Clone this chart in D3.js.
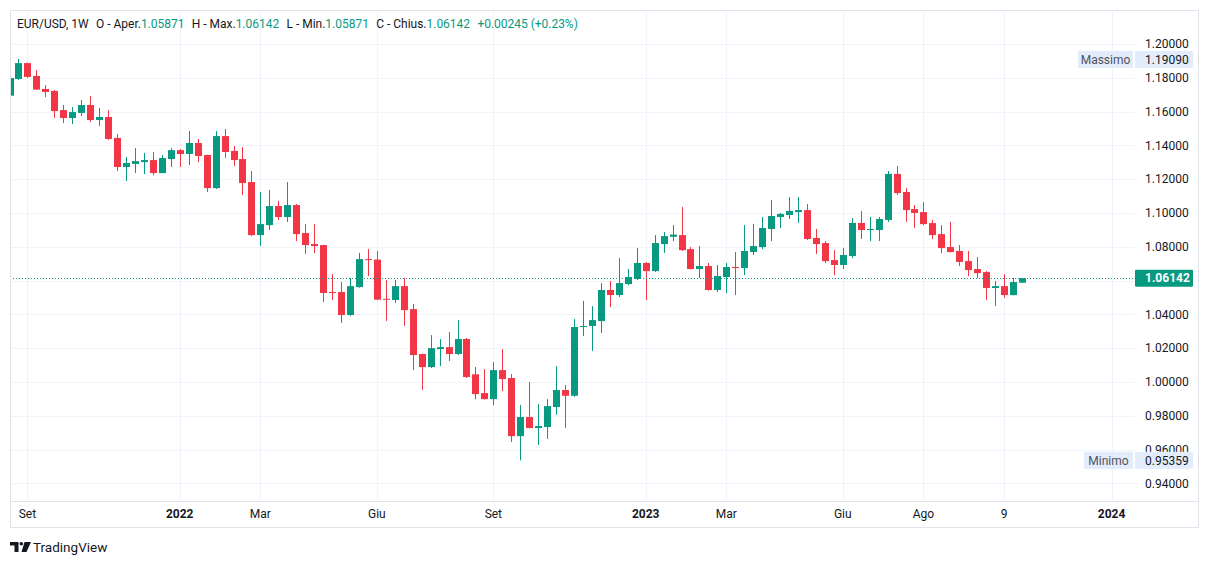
<!DOCTYPE html>
<html><head><meta charset="utf-8">
<script src="https://cdn.jsdelivr.net/npm/d3@7"></script>
<style>
body{margin:0;background:#fff}
svg{display:block}
text{font-family:Roboto,"Noto Sans",sans-serif}
</style>
</head><body>
<svg id="c" width="1209" height="564"></svg>
<script>
// ---- data (weekly EUR/USD, Aug 2021 - Oct 2023) ----
const opens=[1.1694,1.1793,1.1887,1.1811,1.1734,1.1722,1.1609,1.1562,1.1592,1.1639,
1.1550,1.1568,1.1444,1.1272,1.1290,1.1301,1.1313,1.1236,1.1319,1.1372,
1.1349,1.1414,1.1343,1.1147,1.1455,1.1367,1.1319,1.1183,1.0869,1.0928,
1.1041,1.0976,1.1047,1.0881,1.0816,1.0810,1.0532,1.0532,1.0396,1.0561,
1.0727,1.0724,1.0492,1.0485,1.0567,1.0431,1.0165,1.0088,1.0194,1.0206,
1.0165,1.0254,1.0045,0.9934,0.9898,1.0070,1.0023,0.9679,0.9792,0.9727,
0.9733,0.9851,0.9952,0.9918,1.0325,1.0331,1.0360,1.0544,1.0514,1.0579,
1.0609,1.0704,1.0656,1.0816,1.0859,1.0869,1.0786,1.0668,1.0686,1.0544,
1.0621,1.0680,1.0674,1.0769,1.0798,1.0905,1.0976,1.0988,1.1005,1.1017,
1.0852,1.0822,1.0721,1.0692,1.0745,1.0941,1.0899,1.0899,1.0959,1.1231,
1.1124,1.1023,1.1005,1.0940,1.0875,1.0798,1.0775,1.0715,1.0668,1.0650,
1.0556,1.0567,1.0514,1.05871];
const highs=[1.1802,1.1911,1.1890,1.1846,1.1757,1.1728,1.1639,1.1627,1.1668,1.1692,
1.1621,1.1609,1.1467,1.1331,1.1384,1.1355,1.1361,1.1343,1.1384,1.1378,
1.1485,1.1438,1.1345,1.1485,1.1497,1.1396,1.1390,1.1248,1.1124,1.1136,
1.1071,1.1183,1.1053,1.0934,1.0934,1.0812,1.0638,1.0591,1.0615,1.0763,
1.0786,1.0775,1.0603,1.0603,1.0615,1.0461,1.0167,1.0277,1.0254,1.0295,
1.0366,1.0260,1.0088,1.0076,1.0118,1.0194,1.0046,0.9863,0.9999,0.9869,
0.9898,1.0094,0.9981,1.0372,1.0479,1.0449,1.0585,1.0597,1.0734,1.0668,
1.0792,1.0710,1.0869,1.0887,1.0928,1.1035,1.0798,1.0804,1.0704,1.0692,
1.0704,1.0769,1.0928,1.0934,1.0976,1.1077,1.1000,1.1094,1.1094,1.1053,
1.0905,1.0834,1.0780,1.0792,1.0970,1.1011,1.0976,1.0976,1.1248,1.1278,
1.1147,1.1047,1.1065,1.0959,1.0928,1.0947,1.0810,1.0775,1.0739,1.0656,
1.0597,1.0638,1.0615,1.06142];
const lows=[1.1665,1.1787,1.1800,1.1728,1.1686,1.1562,1.1532,1.1526,1.1574,1.1538,
1.1515,1.1432,1.1248,1.1189,1.1236,1.1230,1.1224,1.1236,1.1272,1.1272,
1.1284,1.1301,1.1124,1.1142,1.1325,1.1278,1.1106,1.0863,1.0804,1.0899,
1.0958,1.0947,1.0834,1.0757,1.0763,1.0473,1.0485,1.0349,1.0390,1.0558,
1.0627,1.0485,1.0361,1.0467,1.0331,1.0070,0.9952,1.0082,1.0094,1.0124,
1.0159,1.0023,0.9898,0.9896,0.9863,0.9946,0.9644,0.9536,0.9725,0.9627,
0.9663,0.9806,0.9727,0.9912,1.0272,1.0184,1.0289,1.0443,1.0503,1.0573,
1.0603,1.0485,1.0650,1.0763,1.0834,1.0775,1.0665,1.0615,1.0540,1.0532,
1.0526,1.0514,1.0632,1.0751,1.0786,1.0834,1.0911,1.0964,1.0941,1.0840,
1.0757,1.0704,1.0632,1.0668,1.0733,1.0846,1.0834,1.0834,1.0947,1.1106,
1.0947,1.0911,1.0928,1.0846,1.0763,1.0766,1.0686,1.0627,1.0615,1.0485,
1.0449,1.0497,1.0512,1.05871];
const closes=[1.1799,1.1887,1.1805,1.1730,1.1716,1.1603,1.1562,1.1597,1.1639,1.1550,
1.1568,1.1438,1.1272,1.1296,1.1307,1.1313,1.1236,1.1325,1.1372,1.1349,
1.1414,1.1337,1.1147,1.1455,1.1361,1.1313,1.1177,1.0869,1.0934,1.1041,
1.0976,1.1047,1.0875,1.0810,1.0804,1.0526,1.0526,1.0396,1.0567,1.0727,
1.0721,1.0487,1.0486,1.0567,1.0425,1.0159,1.0088,1.0200,1.0206,1.0165,
1.0254,1.0029,0.9928,0.9898,1.0070,1.0017,0.9679,0.9792,0.9727,0.9739,
0.9857,0.9952,0.9918,1.0325,1.0331,1.0366,1.0544,1.0514,1.0585,1.0621,
1.0704,1.0656,1.0822,1.0863,1.0872,1.0780,1.0668,1.0686,1.0544,1.0627,
1.0680,1.0674,1.0775,1.0804,1.0911,1.0982,1.0994,1.1012,1.1017,1.0846,
1.0816,1.0715,1.0692,1.0751,1.0941,1.0899,1.0905,1.0964,1.1231,1.1118,
1.1017,1.1000,1.0934,1.0869,1.0792,1.0769,1.0710,1.0662,1.0644,1.0556,
1.0567,1.0514,1.0591,1.06142];

const priceTicks=[1.20,1.18,1.16,1.14,1.12,1.10,1.08,1.06,1.04,1.02,1.00,0.98,0.96,0.94];
const timeTickIndex=[2,19,28,41,54,71,80,93,102,111,123];
const timeTickLabels=["Set","2022","Mar","Giu","Set","2023","Mar","Giu","Ago","9","2024"];
const yearLabels=["2022","2023","2024"];
const lastPrice=1.06142, maxPrice=1.19090, minPrice=0.95359;
const headerParts=[
 {t:"EUR/USD, 1W",c:"#131722",gap:0},
 {t:"O - Aper.",c:"#131722",gap:8},{t:"1.05871",c:"#089981",gap:0},
 {t:"H - Max.",c:"#131722",gap:8},{t:"1.06142",c:"#089981",gap:0},
 {t:"L - Min.",c:"#131722",gap:8},{t:"1.05871",c:"#089981",gap:0},
 {t:"C - Chius.",c:"#131722",gap:8},{t:"1.06142",c:"#089981",gap:0},
 {t:"+0.00245 (+0.23%)",c:"#089981",gap:8}
];

// ---- layout ----
const UP="#089981", DOWN="#f23645", GRID="#f0f3fa", BORDER="#e0e3eb", TXT="#131722";
const plotL=10, plotR=1135, plotT=10, plotB=501;
const svg=d3.select("#c");
svg.append("rect").attr("width",1209).attr("height",564).attr("fill","#fff");

const x=d3.scaleLinear().domain([0,113]).range([9.5,1022]);
const y=d3.scaleLinear().domain([0.94,1.20]).range([483.3,44]);

// grid
const g=svg.append("g");
g.selectAll("line.h").data(priceTicks).join("line")
 .attr("x1",plotL).attr("x2",plotR)
 .attr("y1",d=>Math.round(y(d))+0.5).attr("y2",d=>Math.round(y(d))+0.5)
 .attr("stroke",GRID).attr("stroke-width",1);
g.selectAll("line.v").data(timeTickIndex).join("line")
 .attr("x1",d=>Math.round(x(d))+0.5).attr("x2",d=>Math.round(x(d))+0.5)
 .attr("y1",plotT).attr("y2",plotB)
 .attr("stroke",GRID).attr("stroke-width",1);

// clip
svg.append("clipPath").attr("id","clip").append("rect")
 .attr("x",plotL+1).attr("y",plotT).attr("width",plotR-plotL-1).attr("height",plotB-plotT);
const cg=svg.append("g").attr("clip-path","url(#clip)");
const idx=d3.range(opens.length);
cg.selectAll("line.w").data(idx).join("line")
 .attr("x1",i=>Math.round(x(i))+0.5).attr("x2",i=>Math.round(x(i))+0.5)
 .attr("y1",i=>y(highs[i])).attr("y2",i=>y(lows[i]))
 .attr("stroke",i=>closes[i]>=opens[i]?UP:DOWN).attr("stroke-width",1);
cg.selectAll("rect.b").data(idx).join("rect")
 .attr("x",i=>Math.round(x(i))-3).attr("width",7)
 .attr("y",i=>y(Math.max(opens[i],closes[i])))
 .attr("height",i=>Math.max(1,Math.abs(y(opens[i])-y(closes[i]))))
 .attr("fill",i=>closes[i]>=opens[i]?UP:DOWN);

// last price dotted line
svg.append("line").attr("x1",plotL).attr("x2",plotR)
 .attr("y1",Math.round(y(lastPrice))+0.5).attr("y2",Math.round(y(lastPrice))+0.5)
 .attr("stroke",UP).attr("stroke-width",1).attr("stroke-dasharray","1,2");

// price axis labels
svg.selectAll("text.p").data(priceTicks).join("text")
 .attr("x",1145).attr("y",d=>y(d)).attr("dy","0.35em")
 .attr("font-size",12).attr("fill",TXT).text(d=>d3.format(".5f")(d));

// max / min labels
function markLabel(p,name,boxX){
  const cy=y(p);
  svg.append("rect").attr("x",boxX).attr("y",cy-8.5).attr("width",1133-boxX).attr("height",17).attr("fill","#e3ecfb");
  svg.append("rect").attr("x",1135).attr("y",cy-8.5).attr("width",58).attr("height",17).attr("fill","#e3ecfb");
  svg.append("text").attr("x",(boxX+1133)/2).attr("y",cy).attr("dy","0.35em").attr("text-anchor","middle")
   .attr("font-size",12).attr("fill","#50535e").text(name);
  svg.append("text").attr("x",1145).attr("y",cy).attr("dy","0.35em")
   .attr("font-size",12).attr("fill",TXT).text(d3.format(".5f")(p));
}
markLabel(maxPrice,"Massimo",1078);
markLabel(minPrice,"Minimo",1084);

// current price label
svg.append("rect").attr("x",1135).attr("y",y(lastPrice)-8.5).attr("width",58).attr("height",17).attr("fill",UP).attr("rx",1);
svg.append("text").attr("x",1145).attr("y",y(lastPrice)).attr("dy","0.35em")
 .attr("font-size",12).attr("font-weight","bold").attr("fill","#fff").text(d3.format(".5f")(lastPrice));

// time axis
svg.append("line").attr("x1",plotL).attr("x2",1199).attr("y1",plotB+0.5).attr("y2",plotB+0.5).attr("stroke",BORDER);
svg.selectAll("text.t").data(timeTickIndex).join("text")
 .attr("x",d=>x(d)).attr("y",514).attr("dy","0.35em").attr("text-anchor","middle")
 .attr("font-size",12).attr("fill",TXT)
 .attr("font-weight",(d,i)=>yearLabels.includes(timeTickLabels[i])?"bold":"normal")
 .text((d,i)=>timeTickLabels[i]);

// frame
svg.append("rect").attr("x",10.5).attr("y",10.5).attr("width",1188).attr("height",517)
 .attr("fill","none").attr("stroke",BORDER).attr("stroke-width",1);

// header: laid out in sequence, then fitted to the reference span (x 17 -> 578)
const ht=svg.append("text").attr("x",17).attr("y",24).attr("dy","0.35em").attr("font-size",13);
headerParts.forEach(p=>ht.append("tspan").attr("dx",p.gap).attr("fill",p.c).text(p.t));
const hw=ht.node().getBBox().width;
const fs=13*561/hw;
ht.attr("font-size",fs);
ht.selectAll("tspan").attr("dx",(d,i)=>headerParts[i].gap*fs/13);

// logo
const lg=svg.append("g").attr("fill",TXT);
lg.append("path").attr("d","M10,542 H18.5 V552 H14.5 V545.5 H10 Z");
lg.append("circle").attr("cx",21.3).attr("cy",543.8).attr("r",1.8);
lg.append("path").attr("d","M24.5,542 H31 L26.5,552 H21.5 Z");
svg.append("text").attr("x",33).attr("y",547).attr("dy","0.35em").attr("font-size",13.5).attr("fill",TXT).text("TradingView");
</script>
</body></html>
